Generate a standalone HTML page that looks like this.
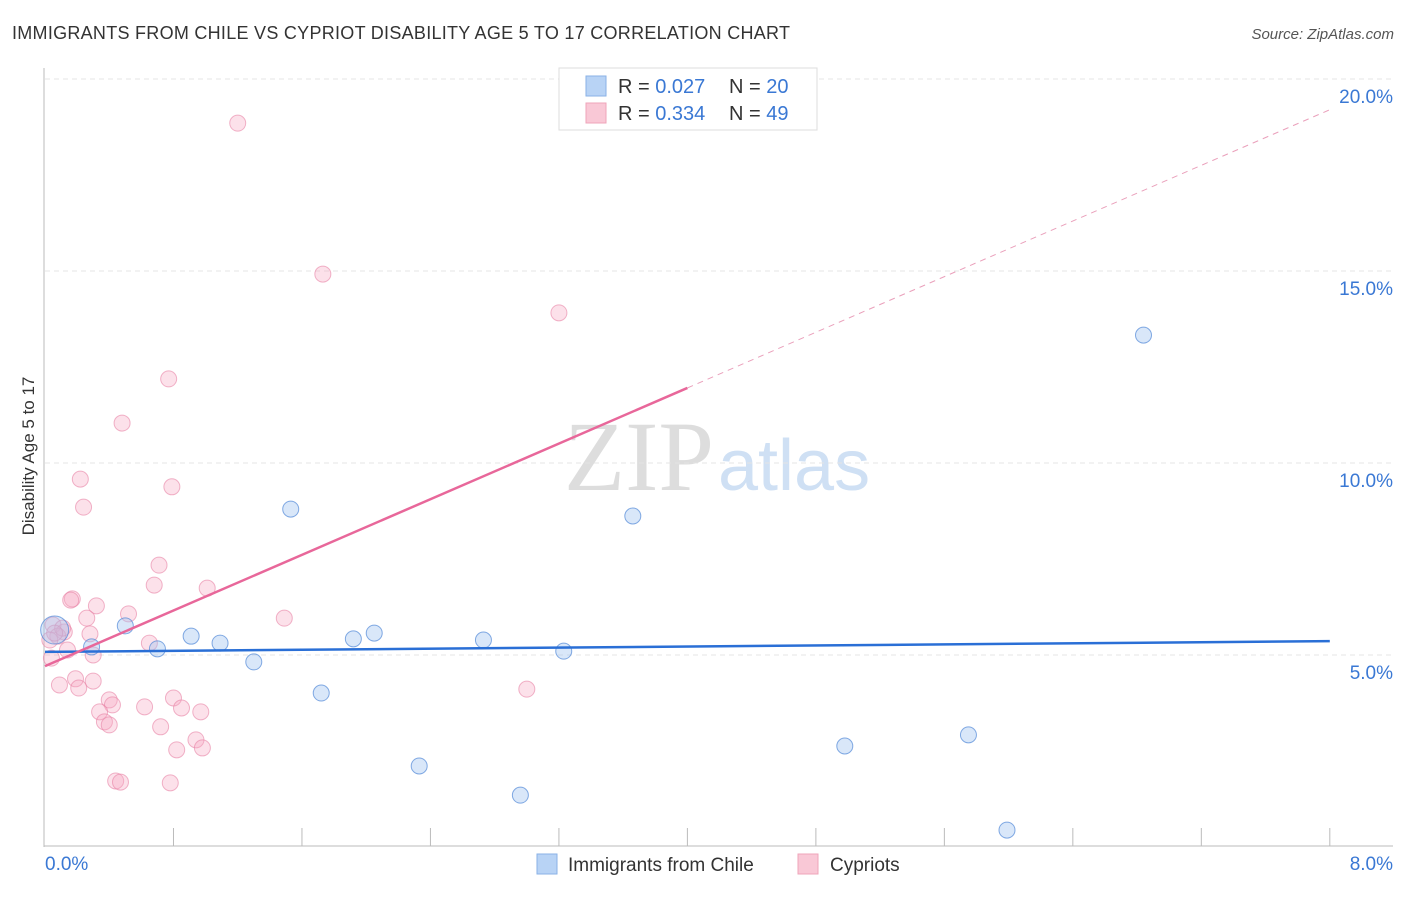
<!DOCTYPE html>
<html><head><meta charset="utf-8"><style>
body{margin:0;background:#fff;font-family:"Liberation Sans",sans-serif}
</style></head><body>
<svg id="c" width="1406" height="892" xmlns="http://www.w3.org/2000/svg" style="font-family:'Liberation Sans',sans-serif">
<text x="12" y="39" font-size="18" fill="#333" textLength="778">IMMIGRANTS FROM CHILE VS CYPRIOT DISABILITY AGE 5 TO 17 CORRELATION CHART</text>
<text x="1394" y="39" font-size="15" fill="#555" text-anchor="end" font-style="italic">Source: ZipAtlas.com</text>
<text x="714" y="490" font-size="100" fill="#ddd" text-anchor="end" font-family="Liberation Serif,serif">ZIP</text>
<text x="718" y="490" font-size="72" fill="#cfe0f4">atlas</text>
<g id="grid"></g><g id="marks"></g>
<text transform="translate(34,456) rotate(-90)" font-size="17" fill="#333" text-anchor="middle">Disability Age 5 to 17</text>
<g>
<rect x="559" y="68" width="258" height="62" fill="#fff" stroke="#ddd"/>
<rect x="586" y="76" width="20" height="20" fill="#b8d3f5" stroke="#8ab2e6"/>
<rect x="586" y="103" width="20" height="20" fill="#f9c8d6" stroke="#efa4ba"/>
<text x="618" y="93" font-size="20" fill="#333">R = <tspan fill="#3a78d4">0.027</tspan></text>
<text x="729" y="93" font-size="20" fill="#333">N = <tspan fill="#3a78d4">20</tspan></text>
<text x="618" y="120" font-size="20" fill="#333">R = <tspan fill="#3a78d4">0.334</tspan></text>
<text x="729" y="120" font-size="20" fill="#333">N = <tspan fill="#3a78d4">49</tspan></text>
</g>
<g>
<rect x="537" y="854" width="20" height="20" fill="#b8d3f5" stroke="#8ab2e6"/>
<text x="568" y="871" font-size="19" fill="#333">Immigrants from Chile</text>
<rect x="798" y="854" width="20" height="20" fill="#f9c8d6" stroke="#efa4ba"/>
<text x="830" y="871" font-size="19" fill="#333">Cypriots</text>
</g>
</svg>
<script>
const blueX=[0.06,0.29,0.50,0.70,0.91,1.09,1.30,1.53,1.72,1.92,2.05,2.33,2.73,2.96,3.23,3.66,4.98,5.75,5.99,6.84];
const blueY=[5.65,5.21,5.76,5.16,5.49,5.31,4.82,8.80,4.01,5.42,5.57,2.11,5.39,1.35,5.10,8.62,2.63,2.92,0.44,13.33];
const pinkX=[1.20,1.73,3.20,0.77,0.48,0.22,0.79,0.24,0.71,0.68,1.01,0.17,0.16,0.32,0.52,1.49,0.26,0.05,0.12,0.28,0.08,0.03,0.65,0.14,0.30,0.04,0.09,0.19,0.21,0.30,0.40,0.42,0.80,0.62,0.85,0.97,0.34,0.37,0.40,0.72,0.94,0.82,0.98,3.00,0.44,0.47,0.78,0.11,0.06];
const pinkY=[18.85,14.92,13.91,12.19,11.04,9.58,9.38,8.85,7.34,6.82,6.74,6.46,6.43,6.28,6.07,5.96,5.96,5.78,5.60,5.55,5.49,5.39,5.31,5.13,5.00,4.92,4.22,4.38,4.14,4.32,3.83,3.70,3.88,3.65,3.62,3.52,3.52,3.26,3.18,3.13,2.79,2.53,2.58,4.11,1.72,1.69,1.67,5.70,5.57];
const yTicks=[5,10,15,20];
const xTickLabels=["0.0%","8.0%"];
const blueLine=[5.08,5.36];
const pinkLine=[4.71,19.2];
const pinkSolidEnd=4;
const X=v=>45+v*160.6, Y=v=>847-v*38.4;
const NS="http://www.w3.org/2000/svg";
function mk(p,t,a){const e=document.createElementNS(NS,t);for(const k in a)e.setAttribute(k,a[k]);p.appendChild(e);return e;}
const g=document.getElementById('grid'),m=document.getElementById('marks');
yTicks.forEach(t=>{
 const l=mk(g,'line',{x1:45,x2:1393,y1:Y(t),y2:Y(t),stroke:'#e4e4e4','stroke-dasharray':'5,4'});
 
 
 const tx=mk(g,'text',{x:1393,y:Y(t)+24,'font-size':19,fill:'#3a78d4','text-anchor':'end'});tx.textContent=t.toFixed(1)+'%';
 
 
});
const ax=mk(g,'line',{x1:44,x2:44,y1:68,y2:847,stroke:'#bbb'});


const bx=mk(g,'line',{x1:44,x2:1393,y1:846,y2:846,stroke:'#bbb'});


for(let i=1;i<=10;i++){const v=i*0.8;const t=mk(g,'line',{x1:X(v),x2:X(v),y1:828,y2:846,stroke:'#bbb'});
 
 }
[[0,'start',45],[8,'end',1393]].forEach((d,i)=>{const t=mk(g,'text',{x:d[2],y:870,'font-size':19,fill:'#3a78d4','text-anchor':d[1]});t.textContent=xTickLabels[i];
 
 });
pinkX.forEach((x,i)=>{const c=mk(m,'circle',{cx:X(x),cy:Y(pinkY[i]),r:8,fill:'rgba(246,170,195,0.35)',stroke:'rgba(232,130,165,0.6)'});
 
 });
blueX.forEach((x,i)=>{const c=mk(m,'circle',{cx:X(x),cy:Y(blueY[i]),r:i==0?14:8,fill:'rgba(160,195,240,0.4)',stroke:'rgba(80,135,215,0.7)'});
 
 });
const bl=mk(m,'line',{x1:X(0),y1:Y(blueLine[0]),x2:X(8),y2:Y(blueLine[1]),stroke:'#2a6fd6','stroke-width':2.5});


const pm=v=>pinkLine[0]+(pinkLine[1]-pinkLine[0])*v/8;
const pl=mk(m,'line',{x1:X(0),y1:Y(pm(0)),x2:X(pinkSolidEnd),y2:Y(pm(pinkSolidEnd)),stroke:'#e8679a','stroke-width':2.5});


const pd=mk(m,'line',{x1:X(pinkSolidEnd),y1:Y(pm(pinkSolidEnd)),x2:X(8),y2:Y(pm(8)),stroke:'#eaa0bb','stroke-width':1,'stroke-dasharray':'6,5'});


</script>
</body></html>
